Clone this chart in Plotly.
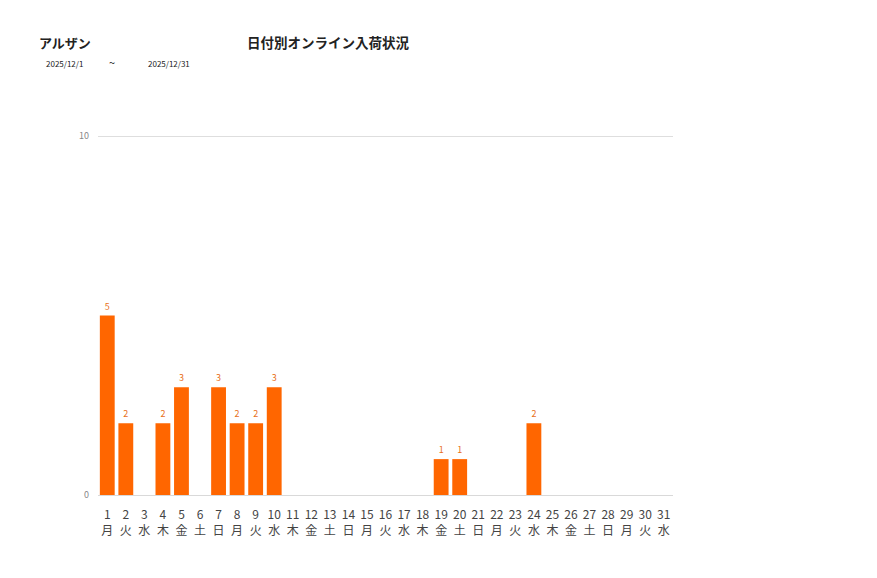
import plotly.graph_objects as go

# December 2025, per-day online arrivals
days = [str(d) for d in range(1, 32)]
weekdays = ['月', '火', '水', '木', '金', '土', '日'] * 4 + ['月', '火', '水']
counts = [5, 2, 0, 2, 3, 0, 3, 2, 2, 3, 0, 0, 0, 0, 0, 0, 0, 0, 1, 1,
          0, 0, 0, 2, 0, 0, 0, 0, 0, 0, 0]

shop = 'アルザン'
title = '日付別オンライン入荷状況'
date_from = '2025/12/1'
date_to = '2025/12/31'

tick_text = [d + '<br>' + w for d, w in zip(days, weekdays)]
labels = [str(c) if c > 0 else '' for c in counts]

W, H = 877, 578
L, R, T, B = 90, 212, 127, 91

fig = go.Figure()
fig.add_trace(go.Bar(
    x=days, y=counts,
    marker=dict(color='#FF6600', line=dict(width=0)),
    text=labels, textposition='outside',
    textfont=dict(size=9, color='#E8701A'),
    cliponaxis=False,
    hoverinfo='x+y',
))

font = 'Noto Sans CJK JP'
fig.update_layout(
    width=W, height=H,
    margin=dict(l=L, r=R, t=T, b=B),
    plot_bgcolor='white', paper_bgcolor='white',
    font=dict(family=font, color='#333333'),
    bargap=0.2,
    showlegend=False,
    xaxis=dict(
        tickmode='array', tickvals=days, ticktext=tick_text,
        tickfont=dict(size=12, color='#444444'),
        showgrid=False, showline=True, linecolor='#d9d9d9', linewidth=1,
        ticks='', ticklabelstandoff=9,
    ),
    yaxis=dict(
        range=[0, 10.03], tickvals=[0, 10], tickfont=dict(size=9, color='#888888'),
        showgrid=True, gridcolor='#dedede', gridwidth=1, zeroline=False,
        ticks='', ticklen=0, ticklabelstandoff=8,
    ),
)

# header texts, positions in screen pixels (page has an 8px body margin)
ann = [
    ('<b>' + shop + '</b>', 37, 42, 13, 'left'),
    ('<b>' + title + '</b>', 328, 42, 13.5, 'center'),
    (date_from, 44, 63, 8, 'left'),
    ('~', 112, 62, 11, 'center'),
    (date_to, 146, 63, 8, 'left'),
]
pw, ph = W - L - R, H - T - B
for txt, px, py, size, anchor in ann:
    fig.add_annotation(
        text=txt, showarrow=False, xanchor=anchor, yanchor='middle',
        xref='paper', yref='paper',
        x=(px - 8 - L) / pw, y=(H - B - (py - 8)) / ph,
        font=dict(size=size, color='#222222', family=font),
    )

fig.write_html("out.html")
